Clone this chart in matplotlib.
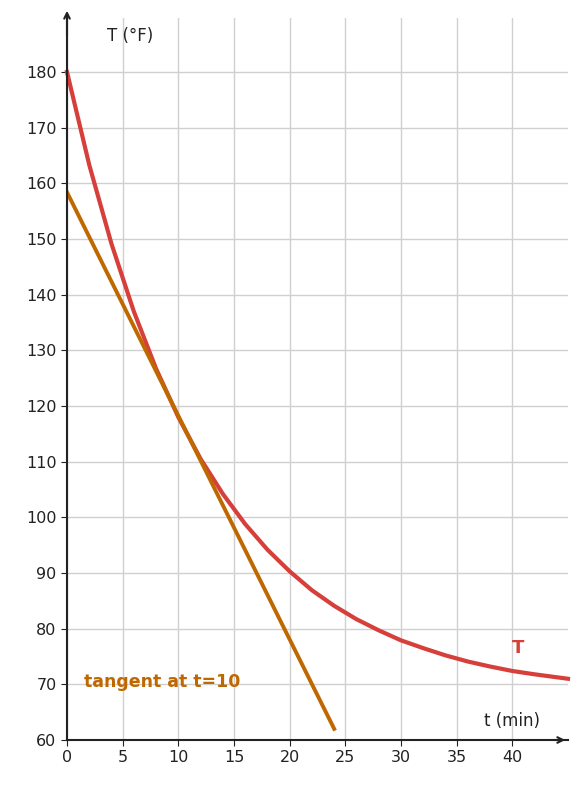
import numpy as np
import matplotlib.pyplot as plt

# temperature curve
t_vals = [0, 2, 4, 6, 8, 10, 12, 14, 16, 18, 20, 22, 24, 26, 28, 30, 32, 34, 36, 38, 40, 42, 45]
T_vals = [180, 163.3, 149.1, 137.0, 126.7, 118.0, 110.5, 104.2, 98.8, 94.2, 90.3, 86.9,
          84.1, 81.7, 79.7, 77.9, 76.5, 75.2, 74.1, 73.2, 72.4, 71.8, 71.0]
# tangent line at t=10
tan_t = [0, 24]
tan_T = [158.4, 62.0]

xticks = [0, 5, 10, 15, 20, 25, 30, 35, 40]
yticks = [60, 70, 80, 90, 100, 110, 120, 130, 140, 150, 160, 170, 180]

red = '#d63f3a'
orange = '#c06800'

fig = plt.figure(figsize=(5.86, 7.89), dpi=100)
ax = fig.add_axes([67/586, 49/789, 501/586, 722/789])
ax.set_xlim(0, 45)
ax.set_ylim(60, 189.7)

ax.set_xticks(xticks)
ax.set_yticks(yticks)
ax.grid(True, color='#d0d0d0', lw=1)
ax.set_axisbelow(True)
for s in ['top', 'right']:
    ax.spines[s].set_visible(False)
for s in ['left', 'bottom']:
    ax.spines[s].set_color('#222222')
    ax.spines[s].set_linewidth(1.5)
ax.tick_params(colors='#222222', labelsize=11.5, length=4)

ax.plot(t_vals, T_vals, color=red, lw=3, clip_on=False)
ax.plot(tan_t, tan_T, color=orange, lw=2.8)

# arrows on the axes
ax.annotate('', xy=(45, 60), xytext=(43.5, 60),
            arrowprops=dict(arrowstyle='->', color='#222222', lw=1.5), annotation_clip=False)
ax.annotate('', xy=(0, 191.5), xytext=(0, 186),
            arrowprops=dict(arrowstyle='->', color='#222222', lw=1.5), annotation_clip=False)

ax.text(3.6, 186.5, 'T (°F)', fontsize=12, color='#222222', va='center')
ax.text(42.5, 63.5, 't (min)', fontsize=12, color='#222222', ha='right', va='center')
ax.text(40.5, 76.5, 'T', fontsize=13, color=red, fontweight='bold', ha='center', va='center')
ax.text(1.5, 70.5, 'tangent at t=10', fontsize=12.5, color=orange, fontweight='bold', va='center')

fig.savefig('out.png', dpi=100)
